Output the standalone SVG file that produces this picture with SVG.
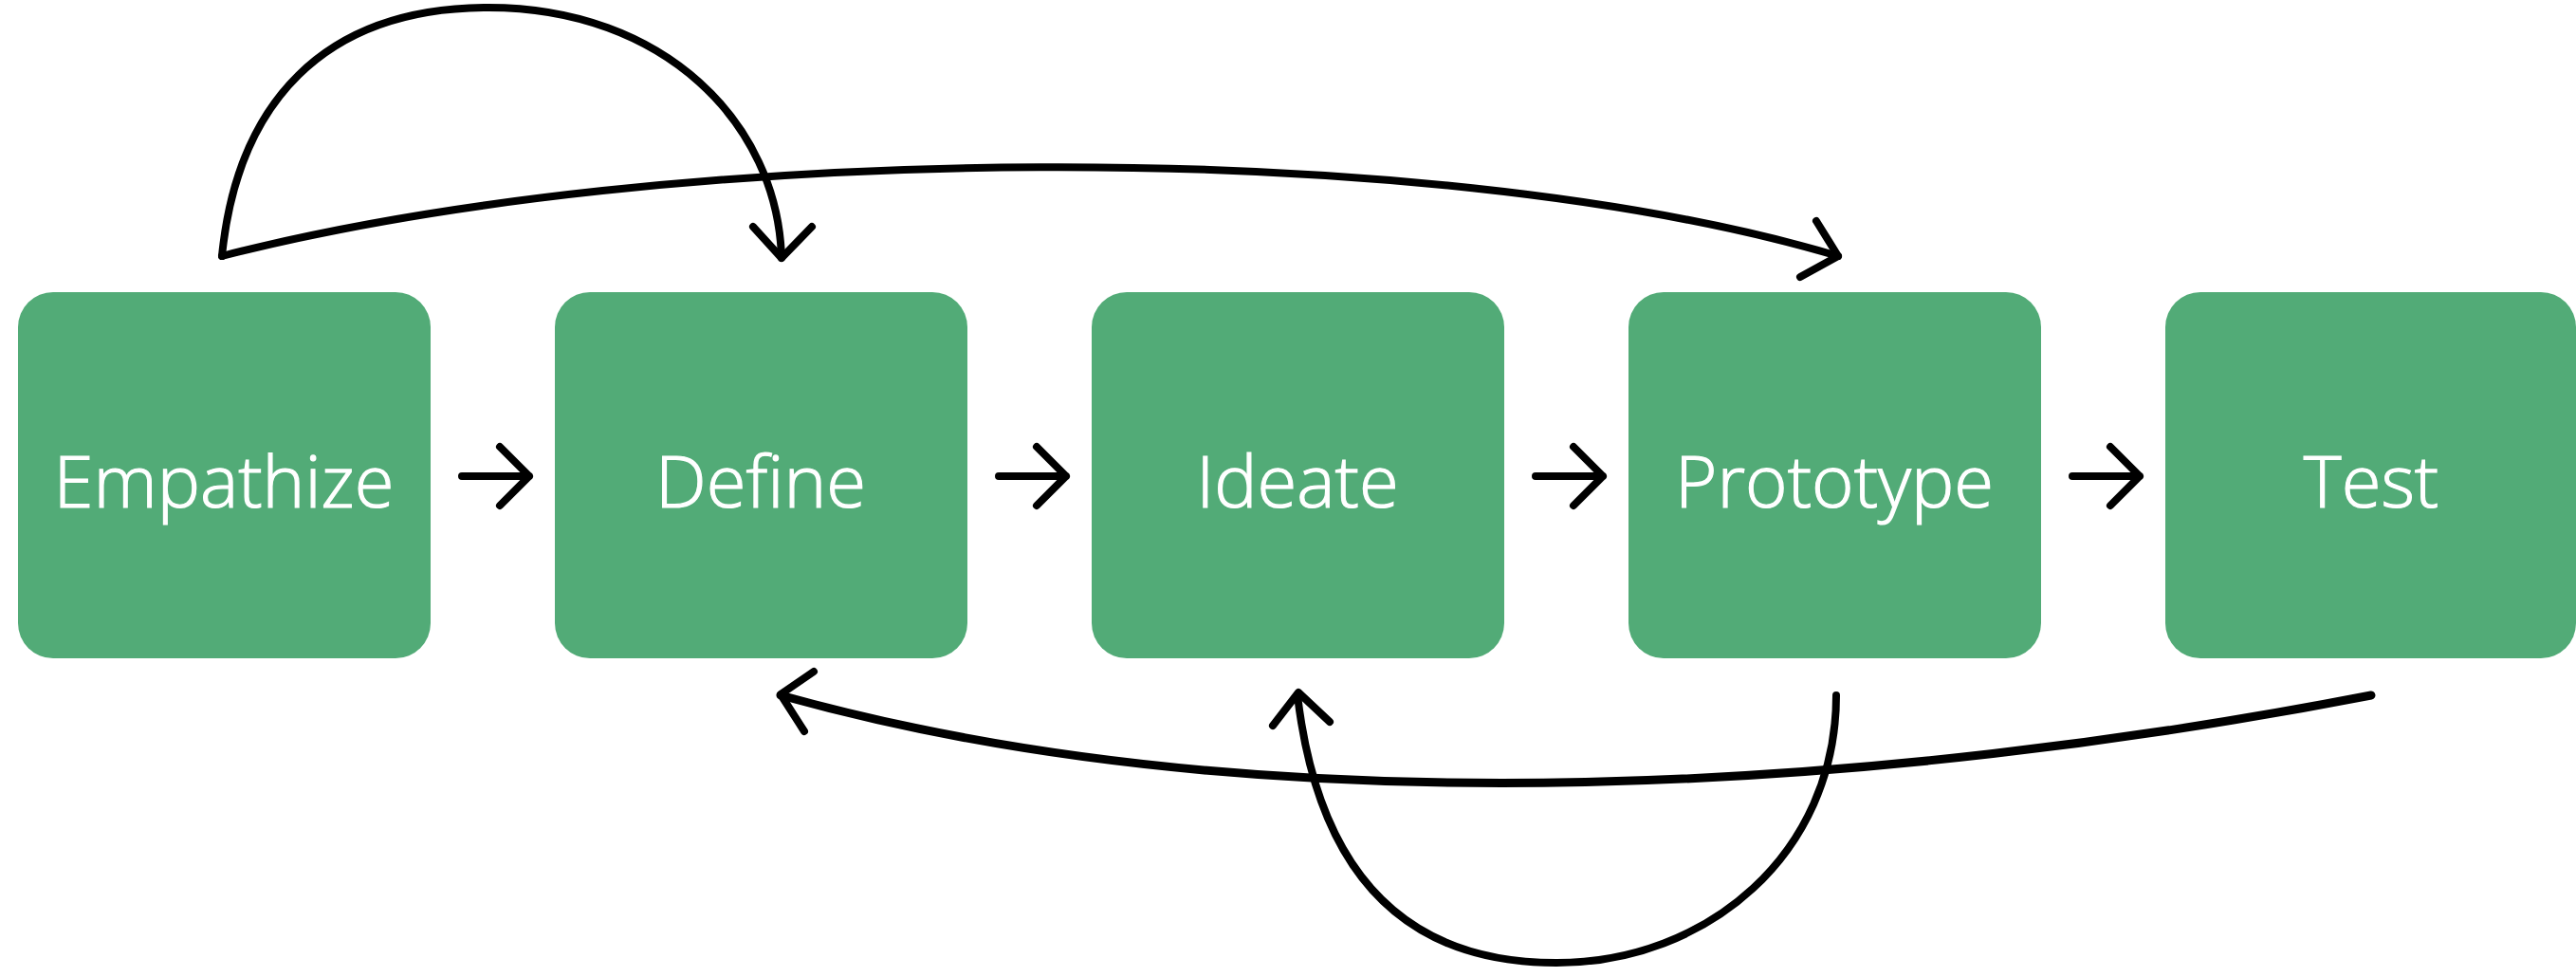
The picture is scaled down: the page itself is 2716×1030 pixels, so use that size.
<svg xmlns="http://www.w3.org/2000/svg" width="2716" height="1030" viewBox="0 0 2716 1030">
<style>
.box{fill:#52ab77}
.lbl{fill:#ffffff;stroke:#ffffff;stroke-width:1.2;font-family:"Open Sans","Noto Sans",sans-serif;font-weight:300;font-size:76px;text-anchor:middle;font-variant-ligatures:none;font-feature-settings:"liga" 0}
.ln{fill:none;stroke:#000;stroke-linecap:round;stroke-linejoin:round;stroke-width:8}
.k{stroke-width:9}
</style>
<rect width="2716" height="1030" fill="#ffffff"/>
<g id="empathize"><rect class="box" x="19" y="308" width="435" height="386" rx="37"/><text class="lbl" x="236" y="535">Empathize</text></g>
<g id="define"><rect class="box" x="585" y="308" width="435" height="386" rx="37"/><text class="lbl" x="802" y="535">Define</text></g>
<g id="ideate"><rect class="box" x="1151" y="308" width="435" height="386" rx="37"/><text class="lbl" x="1368" y="535">Ideate</text></g>
<g id="prototype"><rect class="box" x="1717" y="308" width="435" height="386" rx="37"/><text class="lbl" x="1934" y="535">Prototype</text></g>
<g id="test"><rect class="box" x="2283" y="308" width="433" height="386" rx="37"/><text class="lbl" x="2500" y="535">Test</text></g>
<g id="connectors">
<path class="ln" d="M487,502H558M527,471L558,502L527,533"/>
<path class="ln" d="M1053,502H1124M1093,471L1124,502L1093,533"/>
<path class="ln" d="M1619,502H1690M1659,471L1690,502L1659,533"/>
<path class="ln" d="M2185,502H2256M2225,471L2256,502L2225,533"/>
<path class="ln" d="M234,270C250,110 340,8 515,8C700,8 820,130 824,272"/>
<path class="ln" d="M794,239L824,272L856,239"/>
<path class="ln" d="M234,270C700,150 1500,140 1938,270"/>
<path class="ln" d="M1915,233L1938,270L1898,292"/>
<path class="ln k" d="M2500,733C2000,830 1350,880 823,733"/>
<path class="ln" d="M858,708L823,732L848,771"/>
<path class="ln" d="M1936,733C1936,900 1800,1015 1641,1015C1480,1015 1390,920 1368,733"/>
<path class="ln" d="M1342,765L1369,730L1402,761"/>
</g>
</svg>
